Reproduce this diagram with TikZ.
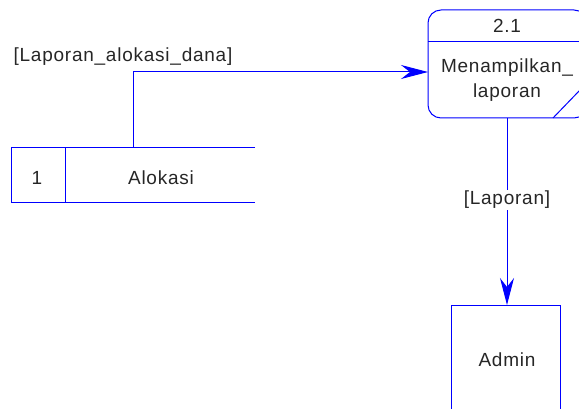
\documentclass[tikz,border=0pt]{standalone}
\usepackage{fontspec}
\setmainfont[LetterSpace=4]{Liberation Sans}
\usetikzlibrary{arrows.meta}
\definecolor{dfd}{RGB}{0,0,255}
\begin{document}
\begin{tikzpicture}[x=1pt,y=-1pt,
  every node/.style={font=\fontsize{19}{25}\selectfont, text=black!85, inner sep=0pt},
  dline/.style={draw=dfd, line width=1pt},
  flow/.style={dline, -{Stealth[length=27pt,width=14pt,inset=9pt]}},
]
\useasboundingbox (0,0) rectangle (579,409);
\begin{scope}
\clip (0,0) rectangle (579,409);
% process 2.1
\draw[dline, rounded corners=13pt] (428,10) rectangle (587,118);
\draw[dline] (428,42) -- (587,42);
\draw[dline] (553,118) -- (581,89);
\node (pid) at (507,26) {2.1};
\node[align=center] (proc) at (507,80) {Menampilkan\_\\laporan};
\coordinate (pl) at (428,72);
\coordinate (pb) at (507,118);
% data store
\draw[dline] (255,148) -- (11,148) -- (11,203) -- (255,203);
\draw[dline] (65,148) -- (65,203);
\node (dsid) at (37,178) {1};
\node (ds) at (161,178) {Alokasi};
\coordinate (dt) at (133,148);
% admin
\draw[dline] (451,420) -- (451,305) -- (560,305) -- (560,420);
\node (admin) at (507,360) {Admin};
\coordinate (at) at (507,305);
% flows
\draw[flow] (dt) |- (pl);
\node (l1) at (123,57) {[Laporan\_alokasi\_dana]};
\draw[flow] (pb) -- (at);
\node[fill=white, inner sep=1pt] (l2) at (507,200) {[Laporan]};
\end{scope}
\end{tikzpicture}
\end{document}
